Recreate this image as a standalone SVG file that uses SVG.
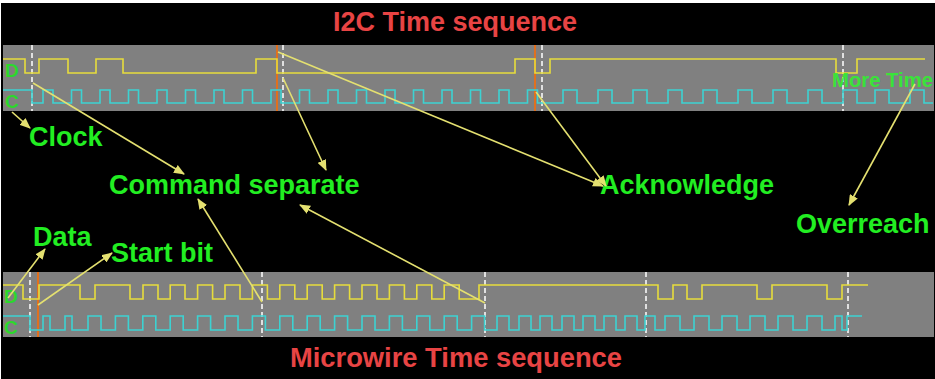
<svg xmlns="http://www.w3.org/2000/svg" width="935" height="379" viewBox="0 0 935 379">
<style>
.bg{fill:#000}
.panel{fill:#808080}
.data{fill:none;stroke:#e6dc3c;stroke-width:1.6}
.clk{fill:none;stroke:#3cd2d2;stroke-width:1.6}
.dash{stroke:#ffffff;stroke-width:1.5;stroke-dasharray:5 3}
.org{stroke:#e0701e;stroke-width:2}
.sig{font-family:"Liberation Sans",Arial,sans-serif;font-weight:bold;font-size:19px;fill:#2cd82c}
.lbl{font-family:"Liberation Sans",Arial,sans-serif;font-weight:bold;font-size:27px;fill:#22ee22}
.title{font-family:"Liberation Sans",Arial,sans-serif;font-weight:bold;font-size:28px;fill:#e84444}
.arr{stroke:#e4e070;stroke-width:1.6;fill:none;marker-end:url(#ah)}
</style>
<defs>
<marker id="ah" markerWidth="11" markerHeight="9" refX="10" refY="4.5" orient="auto" markerUnits="userSpaceOnUse">
<path d="M0,0 L11,4.5 L0,9 z" fill="#e4e070"/>
</marker>
</defs>
<rect x="0" y="0" width="935" height="379" fill="#ffffff"/>
<rect class="bg" x="1" y="3" width="934" height="376"/>

<g id="title-i2c"><text class="title" x="333" y="31" textLength="244" lengthAdjust="spacingAndGlyphs">I2C Time sequence</text></g>
<g id="title-microwire"><text class="title" x="290" y="367" textLength="332" lengthAdjust="spacingAndGlyphs">Microwire Time sequence</text></g>

<g id="i2c-panel">
<rect class="panel" x="3" y="45" width="931" height="66"/>
<line class="org" x1="277" y1="45" x2="277" y2="111"/>
<line class="org" x1="535" y1="45" x2="535" y2="111"/>
<line class="dash" x1="32" y1="45" x2="32" y2="111"/>
<line class="dash" x1="283" y1="45" x2="283" y2="111"/>
<line class="dash" x1="542" y1="45" x2="542" y2="111"/>
<line class="dash" x1="843" y1="45" x2="843" y2="111"/>
<path class="data" d="M3,59 H25 V73 H39 V59 H68 V73 H96 V59 H123 V73 H256 V59 H277 V73 H515 V59 H535 V73 H550 V59 H836 V73 H857 V59 H925"/>
<path class="clk" d="M3,90 H32 V103 H43 V90 H53 V103 H71.5 V90 H81.5 V103 H100 V90 H110 V103 H128.5 V90 H138.5 V103 H157 V90 H167 V103 H185.5 V90 H195.5 V103 H214 V90 H224 V103 H242.5 V90 H252.5 V103 H271 V90 H281 V103 H299.5 V90 H309.5 V103 H328 V90 H338 V103 H356.5 V90 H366.5 V103 H385 V90 H395 V103 H413.5 V90 H423.5 V103 H442 V90 H452 V103 H470.5 V90 H480.5 V103 H499 V90 H509 V103 H527.5 V90 H537.5 V103 H563 V90 H577 V103 H598 V90 H612 V103 H633 V90 H647 V103 H668 V90 H682 V103 H703 V90 H717 V103 H738 V90 H752 V103 H773 V90 H787 V103 H808 V90 H822 V103 H843 V90 H857 V103 H875 V90 H889 V103 H910 V90 H924 V103 H933"/>
<text class="sig" x="5" y="77">D</text>
<text class="sig" x="5" y="108">C</text>
<text x="832" y="87" font-family="Liberation Sans,Arial,sans-serif" font-weight="bold" font-size="20" fill="#30f030" fill-opacity="0.9" textLength="101" lengthAdjust="spacingAndGlyphs">More Time</text>
</g>

<g id="microwire-panel">
<rect class="panel" x="3" y="272" width="931" height="65"/>
<line class="org" x1="38" y1="272" x2="38" y2="337"/>
<line class="dash" x1="30" y1="272" x2="30" y2="337"/>
<line class="dash" x1="262" y1="272" x2="262" y2="337"/>
<line class="dash" x1="485" y1="272" x2="485" y2="337"/>
<line class="dash" x1="646" y1="272" x2="646" y2="337"/>
<line class="dash" x1="848" y1="272" x2="848" y2="337"/>
<path class="data" d="M3,285 H23 V299 H39 V285 H80 V299 H95 V285 H130 V299 H143 V285 H158 V299 H170.2 V285 H185 V299 H197.6 V285 H212.6 V299 H225 V285 H240 V299 H252.4 V285 H267.4 V299 H279.8 V285 H294.8 V299 H307.2 V285 H322.2 V299 H334.6 V285 H349.6 V299 H362 V285 H377 V299 H389.4 V285 H404.4 V299 H416.8 V285 H431.8 V299 H444.2 V285 H459.2 V299 H479 V285 H658 V299 H673 V285 H687 V299 H702 V285 H757 V299 H772 V285 H827 V299 H842 V285 H868"/>
<path class="clk" d="M3,316 H30 V330 H43 V316 H50 V330 H65 V316 H72 V330 H88 V316 H101 V330 H115.4 V316 H128.4 V330 H142.8 V316 H155.8 V330 H170.2 V316 H183.2 V330 H197.6 V316 H210.6 V330 H225 V316 H238 V330 H252.4 V316 H265.4 V330 H279.8 V316 H292.8 V330 H307.2 V316 H320.2 V330 H334.6 V316 H347.6 V330 H362 V316 H375 V330 H389.4 V316 H402.4 V330 H416.8 V316 H429.8 V330 H444.2 V316 H457.2 V330 H471.6 V316 H484.6 V330 H497 V316 H509 V330 H519 V316 H531 V330 H540 V316 H552 V330 H562 V316 H574 V330 H583 V316 H595 V330 H604 V316 H616 V330 H625 V316 H637 V330 H645 V316 H655 V330 H665 V316 H680 V330 H694 V316 H709 V330 H722 V316 H737 V330 H750 V316 H765 V330 H778 V316 H793 V330 H807 V316 H822 V330 H835 V316 H842 V330 H847 V316 H862"/>
<text class="sig" x="4" y="303">D</text>
<text class="sig" x="4" y="334">C</text>
</g>

<g id="label-clock"><text class="lbl" x="29" y="146">Clock</text></g>
<g id="label-command-separate"><text class="lbl" x="109" y="194">Command separate</text></g>
<g id="label-acknowledge"><text class="lbl" x="600" y="194">Acknowledge</text></g>
<g id="label-overreach"><text class="lbl" x="796" y="233">Overreach</text></g>
<g id="label-data"><text class="lbl" x="33" y="246">Data</text></g>
<g id="label-start-bit"><text class="lbl" x="111" y="262">Start bit</text></g>

<g id="connectors">
<line class="arr" x1="12" y1="112" x2="30" y2="128"/>
<line class="arr" x1="33" y1="83" x2="184" y2="174"/>
<line class="arr" x1="283" y1="78" x2="326" y2="170"/>
<line class="arr" x1="278" y1="52" x2="603" y2="186"/>
<line class="arr" x1="536" y1="92" x2="606" y2="186"/>
<line class="arr" x1="915" y1="84" x2="849" y2="205"/>
<line class="arr" x1="8" y1="298" x2="45" y2="249"/>
<line class="arr" x1="38" y1="305" x2="112" y2="253"/>
<line class="arr" x1="262" y1="302" x2="198" y2="199"/>
<line class="arr" x1="485" y1="303" x2="300" y2="205"/>
</g>
</svg>
